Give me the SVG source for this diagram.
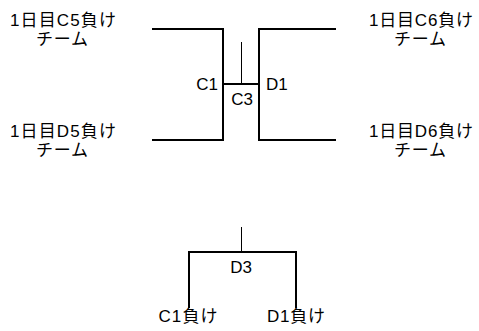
<svg xmlns="http://www.w3.org/2000/svg" width="479" height="331" viewBox="0 0 479 331">
<style>
text{font-family:"Liberation Sans","Noto Sans CJK JP",sans-serif;font-size:17px;fill:#000}
.m{text-anchor:middle}
.b{fill:none;stroke:#000;stroke-width:2}
.t{fill:none;stroke:#000;stroke-width:1}
</style>
<rect width="479" height="331" fill="#fff"/>
<g id="connectors">
<path class="b" d="M152,29H223V140H152M223,84H259M336,29H259V140H336"/>
<line class="t" x1="241.5" y1="42" x2="241.5" y2="84"/>
<path class="b" d="M189,308V252H296V308"/>
<line class="t" x1="241.5" y1="227" x2="241.5" y2="252"/>
</g>
<g id="c5"><text class="m" x="63" y="26" textLength="106">1日目C5負け</text><text class="m" x="62" y="45" textLength="52">チーム</text></g>
<g id="d5"><text class="m" x="63" y="137" textLength="106">1日目D5負け</text><text class="m" x="62" y="156" textLength="52">チーム</text></g>
<g id="c6"><text class="m" x="421" y="26" textLength="104">1日目C6負け</text><text class="m" x="420" y="45" textLength="52">チーム</text></g>
<g id="d6"><text class="m" x="421" y="137" textLength="104">1日目D6負け</text><text class="m" x="420" y="156" textLength="52">チーム</text></g>
<g id="c1"><text x="218" y="90" text-anchor="end">C1</text></g>
<g id="c3"><text class="m" x="242" y="105">C3</text></g>
<g id="d1"><text x="266" y="90">D1</text></g>
<g id="d3"><text class="m" x="241" y="273">D3</text></g>
<g id="c1l"><text class="m" x="188" y="322" textLength="59">C1負け</text></g>
<g id="d1l"><text class="m" x="296" y="322" textLength="58">D1負け</text></g>
</svg>
